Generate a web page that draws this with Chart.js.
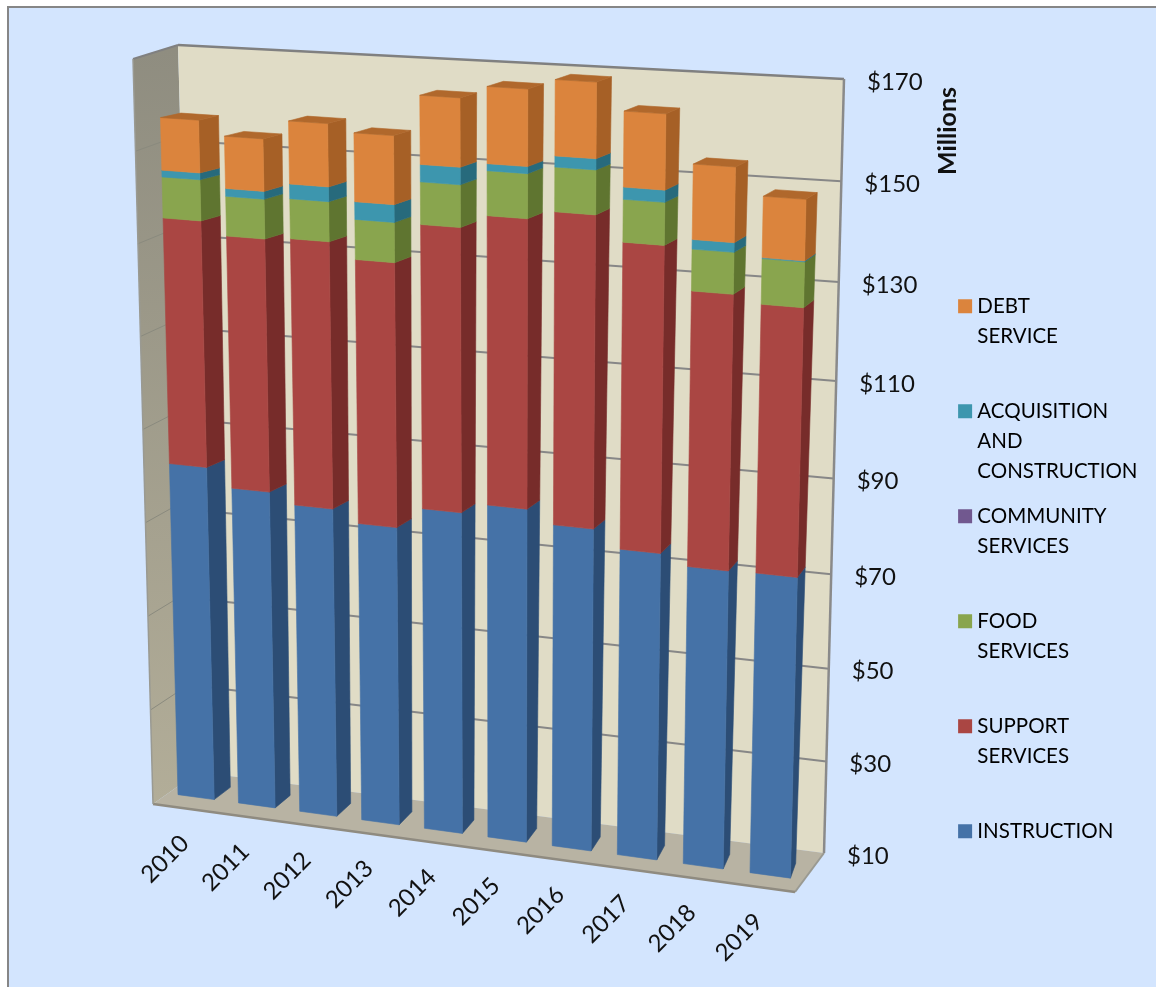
<!DOCTYPE html>
<html>
<head>
<meta charset="utf-8">
<title>Expenditures by function</title>
<script src="https://cdn.jsdelivr.net/npm/chart.js@4"></script>
<style>
  html, body { margin: 0; background: #fff; }
  canvas { display: block; }
</style>
</head>
<body>
<canvas id="expenseChart" width="1156" height="987"></canvas>
<script>
const years = ["2010", "2011", "2012", "2013", "2014", "2015", "2016", "2017", "2018", "2019"];

// values in $ millions
const instruction = [83.3, 79.4, 77.2, 74.7, 79.3, 81.5, 78.8, 75.2, 73.1, 73.3];
const supportServices = [52.0, 53.2, 55.9, 55.2, 58.8, 59.4, 63.9, 62.5, 56.0, 54.3];
const foodServices = [8.5, 8.2, 8.2, 8.2, 8.6, 9.0, 8.9, 8.5, 8.3, 9.0];
const communityServices = [0, 0, 0, 0, 0, 0, 0, 0, 0, 0];
const acquisition = [1.4, 1.6, 3.0, 3.6, 3.5, 1.4, 2.2, 2.4, 1.9, 0.2];
const debtService = [10.8, 10.7, 12.8, 13.9, 13.8, 15.3, 15.0, 14.9, 14.8, 12.0];

const yMin = 10;
const yMax = 170;
const yStep = 20;
const axisTitle = "Millions";

const frontColors = ["#4572a7", "#aa4643", "#89a54e", "#71588f", "#3d96ae", "#db843d"];
const sideColors = ["#2c4d75", "#772c2a", "#5f7530", "#4d3b62", "#276a7c", "#a66026"];
const topColors = ["#33598a", "#883432", "#6b8438", "#5a4672", "#2e7a8e", "#b0682c"];

const FONT = "Lato, sans-serif";

// maps the unit square (u across, t up) onto a quad given as BL, BR, TR, TL
function quadMap(q) {
  const [[x0, y0], [x1, y1], [x2, y2], [x3, y3]] = q;
  const dx1 = x1 - x2, dx2 = x3 - x2, dx3 = x0 - x1 + x2 - x3;
  const dy1 = y1 - y2, dy2 = y3 - y2, dy3 = y0 - y1 + y2 - y3;
  const den = dx1 * dy2 - dx2 * dy1;
  const g = (dx3 * dy2 - dx2 * dy3) / den;
  const h = (dx1 * dy3 - dx3 * dy1) / den;
  const a = x1 - x0 + g * x1, b = x3 - x0 + h * x3;
  const d = y1 - y0 + g * y1, e = y3 - y0 + h * y3;
  return (u, t) => {
    const w = g * u + h * t + 1;
    return [(a * u + b * t + x0) / w, (d * u + e * t + y0) / w];
  };
}

// the 3D box as seen in the picture
const backWall = quadMap([[198, 772], [824, 853], [844, 79], [178, 45]]);
const sideWall = quadMap([[153, 804], [198, 772], [178, 45], [133, 59]]);
const barFront = quadMap([[166, 793], [804, 880], [823, 90], [146, 48]]);
const barRear = quadMap([[183, 781], [809, 865], [835, 84], [167, 44]]);

function poly(ctx, pts, fill, stroke, lw) {
  ctx.beginPath();
  pts.forEach((p, i) => (i ? ctx.lineTo(p[0], p[1]) : ctx.moveTo(p[0], p[1])));
  ctx.closePath();
  if (fill) {
    ctx.fillStyle = fill;
    ctx.fill();
  }
  if (stroke) {
    ctx.strokeStyle = stroke;
    ctx.lineWidth = lw;
    ctx.stroke();
  }
}

function line(ctx, a, b, color, lw) {
  ctx.beginPath();
  ctx.moveTo(a[0], a[1]);
  ctx.lineTo(b[0], b[1]);
  ctx.strokeStyle = color;
  ctx.lineWidth = lw;
  ctx.stroke();
}

const perspectivePlugin = {
  id: "perspective",
  beforeDraw(chart) {
    const { ctx, scales } = chart;
    const area = chart.chartArea;
    const toT = (v) => (area.bottom - scales.y.getPixelForValue(v)) / (area.bottom - area.top);
    ctx.save();

    // panel
    ctx.fillStyle = "#fff";
    ctx.fillRect(0, 0, chart.width, chart.height);
    ctx.fillStyle = "#d3e5fe";
    ctx.fillRect(8, 7, chart.width, chart.height);
    ctx.strokeStyle = "#868686";
    ctx.lineWidth = 2;
    ctx.beginPath();
    ctx.moveTo(8, chart.height + 2);
    ctx.lineTo(8, 7);
    ctx.lineTo(chart.width + 2, 7);
    ctx.stroke();

    // walls and floor
    const sideFill = ctx.createLinearGradient(0, 50, 0, 800);
    sideFill.addColorStop(0, "#8f8d80");
    sideFill.addColorStop(1, "#b2ad98");
    poly(ctx, [sideWall(0, 0), sideWall(1, 0), sideWall(1, 1), sideWall(0, 1)], sideFill);
    poly(ctx, [backWall(0, 0), backWall(1, 0), backWall(1, 1), backWall(0, 1)], "#e0dcc6");
    poly(ctx, [sideWall(0, 0), sideWall(1, 0), backWall(1, 0), [795, 892]], "#b8b3a3");

    scales.y.ticks.forEach((tick) => {
      const t = toT(tick.value);
      if (t > 0 && t < 1) {
        line(ctx, backWall(0, t), backWall(1, t), "#878787", 2);
        line(ctx, sideWall(0, t), sideWall(1, t), "#8a8a7e", 1);
      }
    });

    // outline
    line(ctx, sideWall(0, 1), backWall(0, 1), "#808080", 2);
    line(ctx, backWall(0, 1), backWall(1, 1), "#808080", 2.5);
    line(ctx, backWall(1, 1), backWall(1, 0), "#8a8a8a", 2.5);
    line(ctx, backWall(1, 0), [795, 892], "#9a9a92", 2);
    line(ctx, [795, 892], sideWall(0, 0), "#8f8b80", 2.5);
    line(ctx, sideWall(0, 0), sideWall(0, 1), "#9a9a92", 1.5);

    // value labels follow the right edge of the back wall
    ctx.fillStyle = "#111";
    ctx.font = "24px " + FONT;
    ctx.textAlign = "left";
    ctx.textBaseline = "middle";
    scales.y.ticks.forEach((tick) => {
      const p = backWall(1, toT(tick.value));
      ctx.fillText(tick.label, p[0] + 23, p[1] + 3);
    });

    // axis title
    ctx.save();
    ctx.translate(948, 131);
    ctx.rotate(-Math.PI / 2);
    ctx.textAlign = "center";
    ctx.font = "bold 25px " + FONT;
    ctx.fillText(axisTitle, 0, 0);
    ctx.restore();

    ctx.restore();
  },
  // bars go through the same scales, but are drawn in perspective
  beforeDatasetDraw() {
    return false;
  },
  afterDatasetsDraw(chart) {
    const { ctx } = chart;
    const area = chart.chartArea;
    const clamp = (v) => Math.min(1, Math.max(0, v));
    const toU = (px) => (px - area.left) / (area.right - area.left);
    const toT = (py) => clamp((area.bottom - py) / (area.bottom - area.top));
    ctx.save();
    ctx.lineJoin = "round";

    years.forEach((year, i) => {
      let last = null;
      chart.data.datasets.forEach((ds, d) => {
        const bar = chart.getDatasetMeta(d).data[i];
        if (!ds.data[i]) return;
        const u1 = toU(bar.x - bar.width / 2);
        const u2 = toU(bar.x + bar.width / 2);
        const t0 = toT(bar.base);
        const t1 = toT(bar.y);
        poly(ctx, [barFront(u2, t0), barRear(u2, t0), barRear(u2, t1), barFront(u2, t1)], sideColors[d], sideColors[d], 0.6);
        poly(ctx, [barFront(u1, t0), barFront(u2, t0), barFront(u2, t1), barFront(u1, t1)], frontColors[d], frontColors[d], 0.6);
        last = { u1, u2, t1, d };
      });
      if (last) {
        const { u1, u2, t1, d } = last;
        poly(ctx, [barFront(u1, t1), barFront(u2, t1), barRear(u2, t1), barRear(u1, t1)], topColors[d], topColors[d], 0.6);
      }
    });

    // category labels, rotated and following the floor
    ctx.fillStyle = "#111";
    ctx.font = "24px " + FONT;
    ctx.textAlign = "center";
    ctx.textBaseline = "middle";
    chart.scales.x.ticks.forEach((tick, i) => {
      const p = barFront(toU(chart.scales.x.getPixelForTick(i)), 0);
      ctx.save();
      ctx.translate(p[0] - 31, p[1] + 62);
      ctx.rotate(-Math.PI / 4);
      ctx.fillText(tick.label, 0, 0);
      ctx.restore();
    });
    ctx.restore();
  },
};

const legendLines = [
  ["INSTRUCTION", "", ""],
  ["SUPPORT", "SERVICES", ""],
  ["FOOD", "SERVICES", ""],
  ["COMMUNITY", "SERVICES", ""],
  ["ACQUISITION", "AND", "CONSTRUCTION"],
  ["DEBT", "SERVICE", ""],
];
const seriesNames = ["INSTRUCTION", "SUPPORT SERVICES", "FOOD SERVICES", "COMMUNITY SERVICES", "ACQUISITION AND CONSTRUCTION", "DEBT SERVICE"];
const seriesValues = [instruction, supportServices, foodServices, communityServices, acquisition, debtService];

new Chart(document.getElementById("expenseChart"), {
  type: "bar",
  plugins: [perspectivePlugin],
  data: {
    labels: years,
    datasets: seriesNames.map((name, i) => ({
      label: name,
      data: seriesValues[i],
      backgroundColor: frontColors[i],
      categoryPercentage: 1,
      barPercentage: 0.6,
    })),
  },
  options: {
    responsive: false,
    animation: false,
    layout: { padding: { top: 281, right: 8.5, left: 0, bottom: 0 } },
    scales: {
      x: { stacked: true, display: false },
      y: {
        stacked: true,
        display: false,
        min: yMin,
        max: yMax,
        ticks: { stepSize: yStep, callback: (v) => "$" + v },
      },
    },
    plugins: {
      tooltip: { enabled: false },
      legend: {
        position: "right",
        align: "start",
        reverse: true,
        labels: {
          color: "#111",
          font: { family: FONT, size: 20.5, lineHeight: 1.4634 },
          boxWidth: 4,
          boxHeight: 4,
          padding: 15,
          generateLabels: (chart) =>
            chart.data.datasets.map((ds, i) => ({
              text: legendLines[i],
              fillStyle: frontColors[i],
              strokeStyle: frontColors[i],
              lineWidth: 10,
              datasetIndex: i,
            })),
        },
      },
    },
  },
});
</script>
</body>
</html>
